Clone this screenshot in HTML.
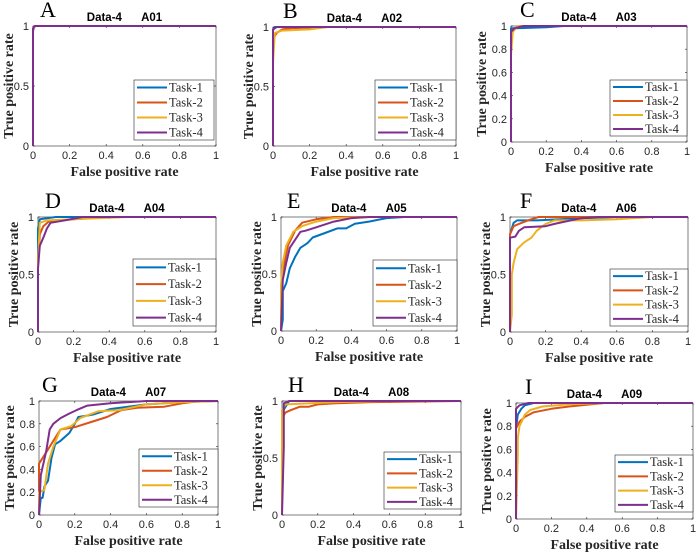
<!DOCTYPE html>
<html><head><meta charset="utf-8">
<style>
html,body{margin:0;padding:0;background:#fff;}
svg{display:block;}
.tick{font-family:"Liberation Sans",Arial,sans-serif;font-size:11px;fill:#262626;}
.ttl{font-family:"Liberation Sans",Arial,sans-serif;font-size:11.5px;font-weight:bold;fill:#000;white-space:pre;}
.lab{font-family:"Liberation Serif",serif;font-size:14px;font-weight:bold;fill:#262626;}
.let{font-family:"Liberation Serif",serif;font-size:22px;fill:#000;}
.leg{font-family:"Liberation Serif",serif;font-size:12.5px;fill:#262626;}
</style></head>
<body>
<svg id="fig" width="696" height="552" viewBox="0 0 696 552" xmlns="http://www.w3.org/2000/svg"></svg>
<script>
// ---- data ----
const taskNames = ["Task-1","Task-2","Task-3","Task-4"];
const panelLetters = ["A","B","C","D","E","F","G","H","I"];
const panelTitles = ["A01","A02","A03","A04","A05","A06","A07","A08","A09"];
const yTicksCoarse = [0,0.5,1];
const yTicksFine = [0,0.2,0.4,0.6,0.8,1];
const xTicks = [0,0.2,0.4,0.6,0.8,1];
const xTickLabels = ["0","0.2","0.4","0.6","0.8","1"];

const rocA01 = [
 [[0,0],[0,0.96],[0.01,1],[1,1]],
 [[0,0],[0,0.97],[0.01,1],[1,1]],
 [[0,0],[0,0.97],[0.01,1],[1,1]],
 [[0,0],[0,0.98],[0.01,1],[1,1]]];
const rocA02 = [
 [[0,0],[0,0.97],[0.01,1],[1,1]],
 [[0,0],[0,0.9],[0.02,0.95],[0.05,0.98],[0.1,0.99],[0.3,1],[1,1]],
 [[0,0],[0,0.7],[0.01,0.95],[0.05,0.97],[0.2,0.98],[0.3,1],[1,1]],
 [[0,0],[0,0.98],[0.02,1],[1,1]]];
const rocA03 = [
 [[0,0],[0,0.98],[0.03,0.98],[0.2,0.99],[0.3,1],[1,1]],
 [[0,0],[0,0.95],[0.02,0.98],[0.07,1],[1,1]],
 [[0,0],[0,0.75],[0.01,0.95],[0.04,1],[1,1]],
 [[0,0],[0,0.95],[0.02,0.98],[0.07,1],[1,1]]];
const rocA04 = [
 [[0,0],[0,0.9],[0.01,0.98],[0.05,0.99],[0.1,1],[1,1]],
 [[0,0],[0,0.6],[0.01,0.85],[0.03,0.92],[0.06,0.96],[0.2,0.98],[0.4,1],[1,1]],
 [[0,0],[0,0.6],[0.01,0.95],[0.05,0.97],[0.2,0.98],[0.5,1],[1,1]],
 [[0,0],[0,0.55],[0.01,0.75],[0.03,0.82],[0.05,0.9],[0.07,0.95],[0.15,0.97],[0.25,1],[1,1]]];
const rocA05 = [
 [[0,0],[0.01,0.1],[0.01,0.35],[0.03,0.42],[0.05,0.55],[0.08,0.65],[0.11,0.73],[0.15,0.77],[0.18,0.82],[0.25,0.86],[0.32,0.9],[0.37,0.9],[0.42,0.94],[0.5,0.96],[0.6,0.99],[0.7,1],[1,1]],
 [[0,0],[0,0.35],[0.02,0.6],[0.04,0.75],[0.08,0.88],[0.12,0.95],[0.2,0.98],[0.3,1],[1,1]],
 [[0,0],[0,0.4],[0.01,0.6],[0.03,0.75],[0.07,0.87],[0.12,0.92],[0.2,0.96],[0.3,0.99],[0.5,1],[1,1]],
 [[0,0],[0.01,0.45],[0.03,0.6],[0.05,0.73],[0.08,0.8],[0.11,0.87],[0.14,0.88],[0.2,0.91],[0.3,0.96],[0.4,0.99],[0.5,1],[1,1]]];
const rocA06 = [
 [[0,0],[0,0.85],[0.02,0.95],[0.04,0.97],[0.15,0.97],[0.4,0.99],[0.6,1],[1,1]],
 [[0,0],[0,0.85],[0.02,0.92],[0.05,0.94],[0.1,0.97],[0.16,1],[1,1]],
 [[0,0],[0.01,0.15],[0.01,0.5],[0.02,0.6],[0.04,0.72],[0.08,0.78],[0.12,0.82],[0.15,0.88],[0.2,0.94],[0.25,0.97],[0.4,0.97],[0.6,0.98],[0.8,1],[1,1]],
 [[0,0],[0,0.82],[0.03,0.83],[0.05,0.88],[0.08,0.91],[0.2,0.92],[0.25,0.94],[0.4,0.99],[0.5,1],[1,1]]];
const rocA07 = [
 [[0,0],[0.01,0.15],[0.02,0.15],[0.03,0.25],[0.05,0.3],[0.07,0.5],[0.09,0.62],[0.12,0.65],[0.17,0.72],[0.2,0.8],[0.22,0.86],[0.3,0.88],[0.4,0.93],[0.6,0.97],[0.8,0.99],[1,1]],
 [[0,0],[0,0.45],[0.02,0.5],[0.04,0.55],[0.08,0.65],[0.12,0.75],[0.2,0.77],[0.3,0.82],[0.38,0.86],[0.46,0.92],[0.55,0.94],[0.7,0.95],[0.8,0.98],[0.9,1],[1,1]],
 [[0,0],[0,0.2],[0.03,0.22],[0.05,0.45],[0.08,0.6],[0.12,0.75],[0.18,0.78],[0.23,0.85],[0.33,0.91],[0.45,0.92],[0.6,0.97],[0.8,0.99],[1,1]],
 [[0,0],[0.01,0.35],[0.02,0.42],[0.04,0.56],[0.06,0.75],[0.08,0.8],[0.12,0.85],[0.17,0.89],[0.21,0.92],[0.27,0.96],[0.4,0.98],[0.6,1],[1,1]]];
const rocA08 = [
 [[0,0],[0,0.9],[0.02,0.95],[0.04,1],[1,1]],
 [[0,0],[0,0.85],[0.02,0.9],[0.05,0.92],[0.1,0.95],[0.15,0.95],[0.2,0.97],[0.3,0.98],[0.5,0.99],[1,1]],
 [[0,0],[0,0.92],[0.02,0.97],[0.3,0.99],[0.6,1],[1,1]],
 [[0,0],[0.01,0.6],[0.01,0.98],[0.04,1],[1,1]]];
const rocA09 = [
 [[0,0],[0,0.78],[0.01,0.9],[0.03,0.95],[0.05,0.98],[0.1,1],[1,1]],
 [[0,0],[0,0.78],[0.02,0.84],[0.05,0.88],[0.1,0.92],[0.2,0.95],[0.3,0.97],[0.5,1],[1,1]],
 [[0,0],[0.01,0.55],[0.01,0.7],[0.02,0.8],[0.05,0.9],[0.08,0.94],[0.15,0.97],[0.3,0.99],[0.5,1],[1,1]],
 [[0,0],[0,0.95],[0.02,0.98],[0.07,1],[1,1]]];
const allRoc = [rocA01,rocA02,rocA03,rocA04,rocA05,rocA06,rocA07,rocA08,rocA09];

// ---- layout (pixels) ----
const colors = ["#0072BD","#D95319","#EDB120","#7E2F8E"];
const boxes = [ // x0,x1,yTop,yBottom,legX0,legX1,legY0,legY1,fineTicks,letterX
 [33,216,26,146,134,214,80,140,false,40],
 [273,456,27,146,375,456,80,140,false,283],
 [511,687,26,142,610,687,80,136,true,520],
 [38,216,217,332,133,216,259,326,false,45],
 [281,457,217,331,373,457,260,326,false,287],
 [510,688,217,332,610,688,269,326,false,520],
 [39,218,401,515,139,218,449,507,true,42],
 [282,461,401,515,384,461,452,509,false,288],
 [516,693,403,519,615,693,455,512,true,525]];

const NS="http://www.w3.org/2000/svg";
const fig=document.getElementById('fig');
function mk(tag,attrs,parent,text){const e=document.createElementNS(NS,tag);for(const k in attrs)e.setAttribute(k,attrs[k]);if(text!==undefined)e.textContent=text;(parent||fig).appendChild(e);return e;}

allRoc.forEach((roc,p)=>{
 const b=boxes[p];
 const [x0,x1,yt,yb,lx0,lx1,ly0,ly1,fine,letX]=b;
 const sx=v=>x0+v*(x1-x0);
 const sy=v=>yb-v*(yb-yt);
 const g=mk('g',{});
 
 
 const box=mk('rect',{x:x0,y:yt,width:x1-x0,height:yb-yt,fill:'#fff',stroke:'#262626','stroke-width':0.6},g);
 
 
 xTicks.forEach((t,i)=>{
  mk('line',{x1:sx(t),x2:sx(t),y1:yb,y2:yb-2,stroke:'#262626','stroke-width':0.6},g);
  mk('line',{x1:sx(t),x2:sx(t),y1:yt,y2:yt+2,stroke:'#262626','stroke-width':0.6},g);
  const tl=mk('text',{x:sx(t),y:yb+13,'text-anchor':'middle',class:'tick'},g,xTickLabels[i]);
  
  
 });
 const yTicks=fine?yTicksFine:yTicksCoarse;
 yTicks.forEach(t=>{
  mk('line',{x1:x0,x2:x0+2,y1:sy(t),y2:sy(t),stroke:'#262626','stroke-width':0.6},g);
  mk('line',{x1:x1,x2:x1-2,y1:sy(t),y2:sy(t),stroke:'#262626','stroke-width':0.6},g);
  const tl=mk('text',{x:x0-4,y:sy(t)+4,'text-anchor':'end',class:'tick'},g,String(t));
  
  
 });
 roc.forEach((pts,k)=>{
  const d=pts.map((q,i)=>(i?'L':'M')+sx(q[0]).toFixed(1)+' '+sy(q[1]).toFixed(1)).join(' ');
  const path=mk('path',{d:d,fill:'none',stroke:colors[k],'stroke-width':2,'stroke-linejoin':'round'},g);
  
  
 });
 const cx=(x0+x1)/2;
 const tt=mk('text',{x:cx,y:yt-5,'text-anchor':'middle',class:'ttl'},g,'Data-4\u00a0\u00a0\u00a0\u00a0\u00a0\u00a0'+panelTitles[p]);
 
 
 const lt=mk('text',{x:letX,y:yt-9,class:'let'},g,panelLetters[p]);
 
 
 const xl=mk('text',{x:cx,y:yb+30,'text-anchor':'middle',class:'lab'},g,'False positive rate');
 
 
 const yx=x0-(fine?25:20), yy=(yt+yb)/2;
 const yl=mk('text',{x:yx,y:yy,'text-anchor':'middle',class:'lab',transform:`rotate(-90 ${yx} ${yy})`},g,'True positive rate');
 
 
 const lg=mk('g',{},g);
 
 
 mk('rect',{x:lx0,y:ly0,width:lx1-lx0,height:ly1-ly0,fill:'#fff',stroke:'#262626','stroke-width':0.6},lg);
 const rh=(ly1-ly0)/4;
 taskNames.forEach((n,k)=>{
  const yy2=ly0+rh*(k+0.5);
  const e=mk('g',{},lg);
  
  
  mk('line',{x1:lx0+3,x2:lx0+33,y1:yy2,y2:yy2,stroke:colors[k],'stroke-width':2},e);
  mk('text',{x:lx0+35,y:yy2+4,class:'leg'},e,n);
 });
});
</script>
</body></html>
